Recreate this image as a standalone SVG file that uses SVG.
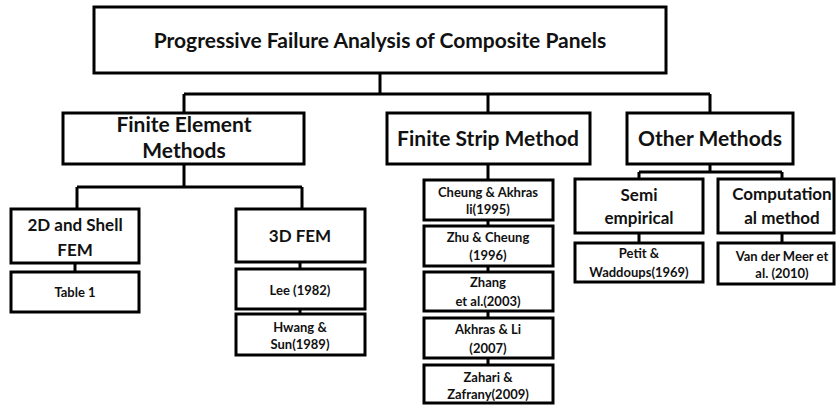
<svg xmlns="http://www.w3.org/2000/svg" width="836" height="406" viewBox="0 0 836 406">
<style>
rect{fill:#fff;stroke:#000;stroke-width:3}
.c line,.c path{stroke:#000;stroke-width:3;fill:none}
text{font-family:Lato,"Open Sans","Liberation Sans",sans-serif;font-weight:bold;fill:#111;text-anchor:middle}
.t{font-size:21px}
.l{font-size:21px}
.m{font-size:17px}
.s{font-size:13px}
</style>
<rect x="0" y="0" width="836" height="406" style="stroke:none"/>
<g class="c" id="connectors">
<path d="M380 73V94M184 94H710M184 94V113M488 94V113M710 94V113"/>
<path d="M184 164V187M77 187H302M77 187V209M302 187V209"/>
<path d="M75 263V272M300 262V269M300 309V314"/>
<path d="M488 164V180M488 220V226M488 266V272M488 311V318M488 358V365"/>
<path d="M710 164V172M639 172H782M639 172V179M782 172V179M639 233V243M782 233V243"/>
</g>
<g id="root"><rect x="94" y="7" width="572" height="66"/><text class="t" x="380" y="48">Progressive Failure Analysis of Composite Panels</text></g>
<g id="fem"><rect x="63" y="113" width="241" height="51"/><text class="l" x="184" y="132">Finite Element</text><text class="l" x="184" y="158">Methods</text></g>
<g id="fsm"><rect x="387" y="113" width="203" height="51"/><text class="l" x="488" y="146">Finite Strip Method</text></g>
<g id="other"><rect x="627" y="113" width="166" height="51"/><text class="l" x="710" y="146">Other Methods</text></g>
<g id="shell"><rect x="11" y="209" width="128" height="54"/><text class="m" x="75" y="231">2D and Shell</text><text class="m" x="75" y="256">FEM</text></g>
<g id="fem3d"><rect x="236" y="209" width="129" height="53"/><text class="m" x="300" y="242">3D FEM</text></g>
<g id="table1"><rect x="11" y="272" width="128" height="40"/><text class="s" x="75" y="297">Table 1</text></g>
<g id="lee"><rect x="236" y="269" width="129" height="40"/><text class="s" x="300" y="295">Lee (1982)</text></g>
<g id="hwang"><rect x="236" y="314" width="129" height="41"/><text class="s" x="300" y="332">Hwang &amp;</text><text class="s" x="300" y="349">Sun(1989)</text></g>
<g id="cheung"><rect x="424" y="180" width="129" height="40"/><text class="s" x="488" y="197">Cheung &amp; Akhras</text><text class="s" x="488" y="214">li(1995)</text></g>
<g id="zhu"><rect x="424" y="226" width="129" height="40"/><text class="s" x="488" y="242">Zhu &amp; Cheung</text><text class="s" x="488" y="260">(1996)</text></g>
<g id="zhang"><rect x="424" y="272" width="129" height="39"/><text class="s" x="488" y="287">Zhang</text><text class="s" x="488" y="306">et al.(2003)</text></g>
<g id="akhras"><rect x="424" y="318" width="129" height="40"/><text class="s" x="488" y="334">Akhras &amp; Li</text><text class="s" x="488" y="353">(2007)</text></g>
<g id="zahari"><rect x="424" y="365" width="129" height="38"/><text class="s" x="488" y="382">Zahari &amp;</text><text class="s" x="488" y="399">Zafrany(2009)</text></g>
<g id="semi"><rect x="575" y="179" width="128" height="54"/><text class="m" x="639" y="201">Semi</text><text class="m" x="639" y="224">empirical</text></g>
<g id="comp"><rect x="718" y="179" width="116" height="54"/><text class="m" x="782" y="200">Computation</text><text class="m" x="782" y="224">al method</text></g>
<g id="petit"><rect x="575" y="243" width="128" height="39"/><text class="s" x="639" y="258">Petit &amp;</text><text class="s" x="639" y="277">Waddoups(1969)</text></g>
<g id="vdm"><rect x="718" y="243" width="116" height="41"/><text class="s" x="782" y="261">Van der Meer et</text><text class="s" x="782" y="278">al. (2010)</text></g>
</svg>
